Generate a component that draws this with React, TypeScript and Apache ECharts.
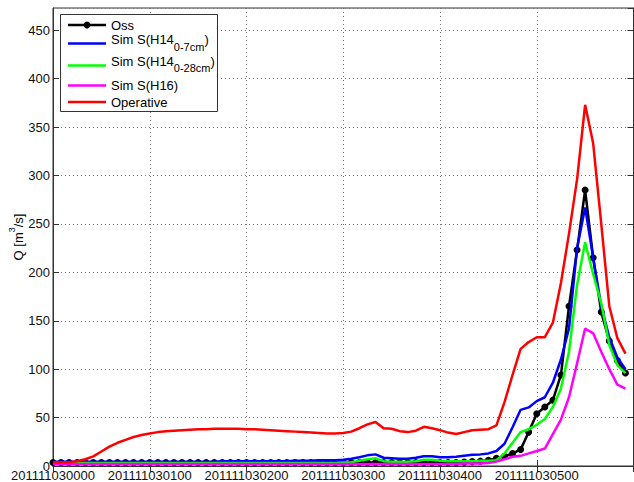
import React, { useEffect, useRef } from "react";
import * as echarts from "echarts";

const FONT = '"Liberation Sans", Arial, Helvetica, sans-serif';

// 5-minute time stamps from 2011-11-03 00:00 to 06:00 (yyyymmddHHMM)
const timeStamps: string[] = [];
for (let k = 0; k <= 72; k++) {
  const minutes = k * 5;
  const hh = String(Math.floor(minutes / 60)).padStart(2, "0");
  const mm = String(minutes % 60).padStart(2, "0");
  timeStamps.push("20111103" + hh + mm);
}

// Discharge Q [m3/s], one value every 5 minutes (00:00 … 05:55)
const oss = [
  3.6, 3.6, 3.6, 3.6, 3.5, 3.5, 3.5, 3.5, 3.5, 3.5, 3.5, 3.5,
  3.5, 3.5, 3.5, 3.5, 3.5, 3.5, 3.5, 3.5, 3.5, 3.5, 3.5, 3.5,
  3.5, 3.5, 3.5, 3.5, 3.5, 3.5, 3.5, 3.5, 3.5, 3.5, 3.5, 3.5,
  3.5, 3.5, 3.5, 3.5, 3.5, 3.5, 3.5, 3.5, 3.5, 3.5, 3.5, 3.5,
  3.5, 3.5, 3.5, 4, 4.5, 5, 6, 8, 10, 13, 17, 35,
  54, 61, 68, 94, 165, 223, 285, 215, 159, 129, 109, 96,
];

const simH14Shallow = [
  4.5, 4.5, 4.5, 4.5, 4.5, 4.5, 4.5, 4.5, 4.5, 4.5, 4.5, 4.5,
  4.5, 4.5, 4.5, 4.5, 4.5, 4.5, 4.5, 4.5, 4.5, 5, 5, 5,
  5, 5, 5, 5, 5, 5, 5.5, 5.5, 5.5, 6, 6, 6,
  6.5, 7.5, 9, 11, 12, 8.5, 8, 7.5, 7.5, 8.5, 10, 10,
  9, 9, 9.5, 10.5, 11.5, 12, 13, 15.5, 23, 40, 58, 60.5,
  67, 71, 86, 110, 142, 225, 267, 215, 165, 133, 112, 100,
];

const simH14Deep = [
  3, 3, 3, 3, 3, 3, 3, 3, 3, 3, 3, 3,
  3, 3, 3, 3, 3, 3, 3, 3, 3, 3, 3, 3,
  3, 3, 3, 3, 3, 3, 3, 3, 3, 3, 3, 3,
  3.5, 4, 5.5, 7, 8, 5, 4.5, 4.5, 4.5, 5, 6.5, 6.5,
  5.5, 5, 5, 5, 5, 5.5, 5.5, 6, 13, 24, 35, 38,
  42.5, 48.5, 61, 80, 118, 187, 231, 198, 168, 125, 104, 96,
];

const simH16 = [
  2, 2, 2, 2, 2, 2, 2, 2, 2, 2, 2, 2,
  2, 2, 2, 2, 2, 2, 2, 2, 2, 2, 2, 2,
  2, 2, 2, 2, 2, 2, 2, 2, 2, 2, 2, 2,
  2, 2, 2, 2, 2, 2, 2, 2, 2, 2, 2, 2,
  2, 2, 2, 2.5, 2.5, 2.5, 3, 4.5, 7, 9.5, 10.5, 13,
  15.5, 18, 33, 48, 71, 106, 142, 137, 118, 100, 84, 80,
];

const operative = [
  4, 4, 4, 5, 7, 10, 15, 20, 24, 27, 30, 32,
  33.5, 35, 36, 36.5, 37, 37.5, 38, 38, 38.5, 38.5, 38.5, 38.5,
  38, 38, 37.5, 37, 36.5, 36, 35.5, 35, 34.5, 34, 33.5, 33.5,
  34, 35.5, 39, 43, 45.5, 39, 38.5, 36, 35, 36.5, 40.5, 39,
  37, 34.5, 33, 35, 37, 37.5, 38, 42, 66, 94, 121, 128,
  133, 133, 148, 189, 240, 296, 373, 333, 250, 165, 132, 116,
];

const seriesNames = ["Oss", "Sim S(H14 0-7cm)", "Sim S(H14 0-28cm)", "Sim S(H16)", "Operative"];
const seriesColors = ["#000000", "#0000ff", "#00ff00", "#ff00ff", "#ff0000"];
const seriesData = [oss, simH14Shallow, simH14Deep, simH16, operative];

// Legend text, with subscripts written as rich-text tokens
const legendTexts = [
  "{m|Oss}",
  "{m|Sim S(H14}{s|0-7cm}{m|)}",
  "{m|Sim S(H14}{s|0-28cm}{m|)}",
  "{m|Sim S(H16)}",
  "{m|Operative}",
];

const Y_MIN = 0;
const Y_MAX = 473;
const Y_STEP = 50;
const HOUR_STEPS = 12;

const isHourTick = (idx: number) => idx % HOUR_STEPS === 0;

export default function App() {
  const ref = useRef<HTMLDivElement>(null);

  useEffect(() => {
    if (!ref.current) return;
    const chart = echarts.init(ref.current, undefined, { renderer: "svg" });

    const axisColor = "#333";
    const gridLine = { show: true, lineStyle: { color: "#777", width: 1, type: [1, 3] as any } };

    const legendRows = [25, 39.5, 61, 85.5, 102];
    const lineRows = [25, 43.5, 65.5, 85.5, 102];
    const legendGraphic: any[] = [
      {
        type: "rect",
        z: 100,
        shape: { x: 60.5, y: 14.5, width: 157, height: 97 },
        style: { fill: "#fff", stroke: "#333", lineWidth: 1 },
      },
    ];
    seriesNames.forEach((_, k) => {
      legendGraphic.push({
        type: "line",
        z: 101,
        shape: { x1: 68, y1: lineRows[k], x2: 106, y2: lineRows[k] },
        style: { stroke: seriesColors[k], lineWidth: 2.5 },
      });
      legendGraphic.push({
        type: "text",
        z: 101,
        x: 111,
        y: legendRows[k] - 6.5,
        style: {
          text: legendTexts[k],
          verticalAlign: "top",
          align: "left",
          rich: {
            m: { fontSize: 13, fontFamily: FONT, color: "#111", lineHeight: 13, verticalAlign: "top" },
            s: { fontSize: 11, fontFamily: FONT, color: "#111", lineHeight: 19, verticalAlign: "bottom" },
          },
        },
      });
    });
    legendGraphic.push({
      type: "circle",
      z: 102,
      shape: { cx: 87, cy: lineRows[0], r: 3.5 },
      style: { fill: "#000" },
    });

    const option: any = {
      animation: false,
      backgroundColor: "#fff",
      textStyle: { fontFamily: FONT },
      grid: {
        left: 53,
        right: 0.5,
        top: 8,
        bottom: 16,
        show: true,
        borderColor: axisColor,
        borderWidth: 1,
        containLabel: false,
      },
      xAxis: [
        {
          type: "category",
          data: timeStamps,
          boundaryGap: false,
          axisLine: { show: true, lineStyle: { color: axisColor } },
          axisTick: { show: true, inside: true, length: 6, interval: (i: number) => isHourTick(i), lineStyle: { color: axisColor } },
          axisLabel: {
            interval: (i: number) => isHourTick(i) && i < timeStamps.length - 1,
            fontSize: 13,
            color: "#111",
            margin: 3,
            fontFamily: FONT,
          },
          splitLine: { ...gridLine, interval: (i: number) => isHourTick(i) },
        },
        {
          type: "category",
          data: timeStamps,
          position: "top",
          boundaryGap: false,
          axisLine: { show: true, lineStyle: { color: axisColor } },
          axisTick: { show: true, inside: true, length: 6, interval: (i: number) => isHourTick(i), lineStyle: { color: axisColor } },
          axisLabel: { show: false },
          splitLine: { show: false },
        },
      ],
      yAxis: [
        {
          type: "value",
          min: Y_MIN,
          max: Y_MAX,
          interval: Y_STEP,
          axisLine: { show: true, lineStyle: { color: axisColor } },
          axisTick: { show: true, inside: true, length: 6, lineStyle: { color: axisColor } },
          axisLabel: { fontSize: 13, color: "#111", margin: 3, fontFamily: FONT, showMaxLabel: false },
          splitLine: gridLine,
        },
        {
          type: "value",
          position: "right",
          min: Y_MIN,
          max: Y_MAX,
          interval: Y_STEP,
          axisLine: { show: true, lineStyle: { color: axisColor } },
          axisTick: { show: true, inside: true, length: 6, lineStyle: { color: axisColor } },
          axisLabel: { show: false },
          splitLine: { show: false },
        },
      ],
      series: seriesNames.map((name, k) => ({
        name,
        type: "line",
        xAxisIndex: 0,
        yAxisIndex: 0,
        data: seriesData[k],
        symbol: k === 0 ? "circle" : "none",
        symbolSize: 7,
        showSymbol: k === 0,
        showAllSymbol: true,
        lineStyle: { color: seriesColors[k], width: 2.5 },
        itemStyle: { color: seriesColors[k] },
        z: 2 + k,
        silent: true,
      })),
      graphic: [
        {
          type: "text",
          z: 100,
          x: 16,
          y: 237,
          rotation: Math.PI / 2,
          style: {
            text: "{a|Q [m}{b|3}{a|/s]}",
            align: "center",
            verticalAlign: "middle",
            rich: {
              a: { fontSize: 13, fontFamily: FONT, color: "#111", lineHeight: 17, verticalAlign: "bottom" },
              b: { fontSize: 9, fontFamily: FONT, color: "#111", lineHeight: 17, verticalAlign: "top" },
            },
          },
        },
        ...legendGraphic,
      ],
    };

    chart.setOption(option);
    return () => chart.dispose();
  }, []);

  return (
    <div
      ref={ref}
      style={{ position: "absolute", left: 0, top: 0, width: 634, height: 482, background: "#fff" }}
    />
  );
}
